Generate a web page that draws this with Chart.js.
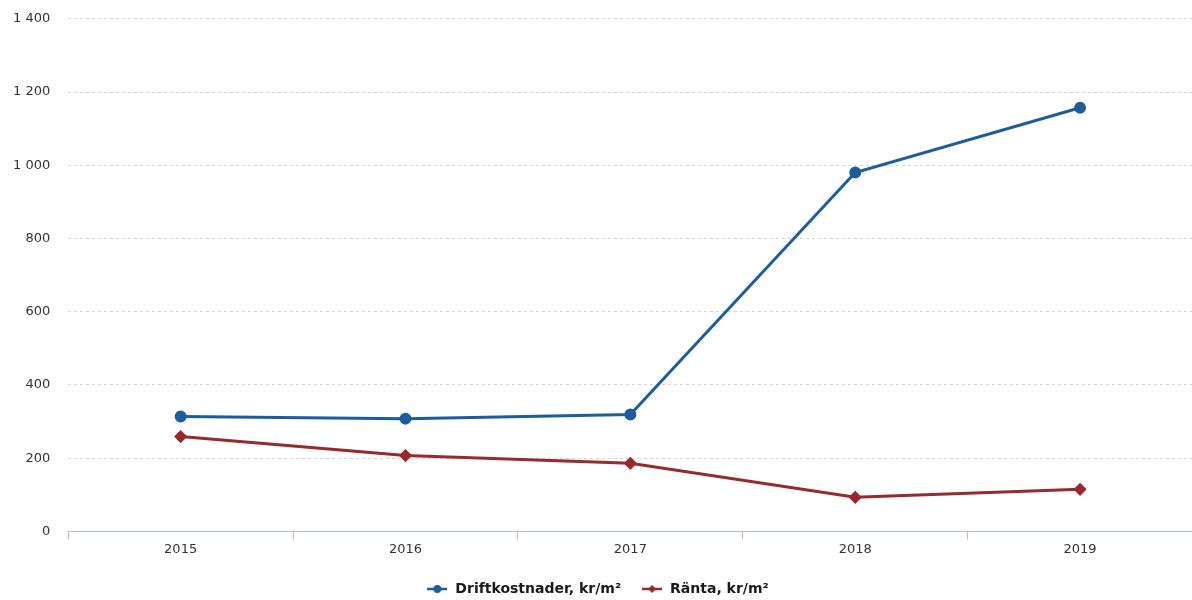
<!DOCTYPE html>
<html>
<head>
<meta charset="utf-8">
<script src="https://cdn.jsdelivr.net/npm/chart.js@4/dist/chart.umd.min.js"></script>
<style>
  html, body { margin: 0; padding: 0; background: #fff; overflow: hidden; }
  #wrap { width: 1200px; height: 607px; margin-top: -7px; position: relative; }
</style>
</head>
<body>
<div id="wrap"><canvas id="c"></canvas></div>
<script>
// Years on the x axis
const years = ['2015', '2016', '2017', '2018', '2019'];
// Operating costs per square metre
const driftkostnader = [314, 308, 319, 980, 1157];
// Interest per square metre
const ranta = [259, 207, 186, 93, 115];
// Value axis ticks
const yTicks = [0, 200, 400, 600, 800, 1000, 1200, 1400];

const BLUE = '#1d5d9b';
const RED = '#962a2c';

// Legend symbol: short line with the series marker in the middle
function legendSymbol(color, shape) {
  const c = document.createElement('canvas');
  c.width = 20; c.height = 10;
  const g = c.getContext('2d');
  g.strokeStyle = color; g.fillStyle = color; g.lineWidth = 2.5;
  g.beginPath(); g.moveTo(0, 5); g.lineTo(20, 5); g.stroke();
  g.beginPath();
  if (shape === 'circle') {
    g.arc(10, 5, 4, 0, Math.PI * 2);
  } else {
    g.moveTo(10, 1); g.lineTo(14, 5); g.lineTo(10, 9); g.lineTo(6, 5); g.closePath();
  }
  g.fill();
  return c;
}

const fmt = v => String(v).replace(/\B(?=(\d{3})+(?!\d))/g, ' ');

new Chart(document.getElementById('c'), {
  type: 'line',
  data: {
    labels: years,
    datasets: [
      {
        label: 'Driftkostnader, kr/m²',
        data: driftkostnader,
        borderColor: BLUE,
        backgroundColor: BLUE,
        borderWidth: 3,
        pointStyle: 'circle',
        pointRadius: 4.5,
        pointHoverRadius: 4.5,
        tension: 0
      },
      {
        label: 'Ränta, kr/m²',
        data: ranta,
        borderColor: RED,
        backgroundColor: RED,
        borderWidth: 3,
        pointStyle: 'rectRot',
        pointRadius: 4.5,
        pointHoverRadius: 4.5,
        tension: 0
      }
    ]
  },
  options: {
    responsive: true,
    maintainAspectRatio: false,
    animation: false,
    devicePixelRatio: 1,
    layout: { padding: { top: 0, right: 0, left: -5, bottom: -6 } },
    plugins: {
      tooltip: { enabled: false },
      legend: {
        position: 'bottom',
        labels: {
          usePointStyle: true,
          pointStyleWidth: 22,
          padding: 20,
          color: '#1a1a1a',
          font: { family: 'DejaVu Sans', size: 14, weight: 'bold' },
          generateLabels: chart => chart.data.datasets.map((ds, i) => ({
            text: ds.label,
            pointStyle: legendSymbol(ds.borderColor, i === 0 ? 'circle' : 'diamond'),
            fillStyle: ds.borderColor,
            strokeStyle: ds.borderColor,
            lineWidth: 0,
            hidden: false,
            datasetIndex: i,
            fontColor: '#1a1a1a'
          }))
        }
      }
    },
    scales: {
      x: {
        offset: true,
        afterFit: axis => { axis.height += 3; },
        grid: {
          offset: true,
          drawOnChartArea: false,
          drawTicks: true,
          tickLength: 8,
          color: '#a9c1da'
        },
        border: { color: '#a9c1da', width: 1 },
        ticks: {
          color: '#333',
          padding: 2,
          font: { family: 'DejaVu Sans', size: 13 }
        }
      },
      y: {
        min: 0,
        max: 1400,
        afterBuildTicks: axis => { axis.ticks = yTicks.map(v => ({ value: v })); },
        border: { display: false, dash: [3, 3] },
        grid: {
          color: '#d4d4d4',
          drawTicks: false,
          lineWidth: 1
        },
        ticks: {
          color: '#333',
          padding: 18,
          font: { family: 'DejaVu Sans', size: 13 },
          callback: v => fmt(v)
        }
      }
    }
  }
});
</script>
</body>
</html>
